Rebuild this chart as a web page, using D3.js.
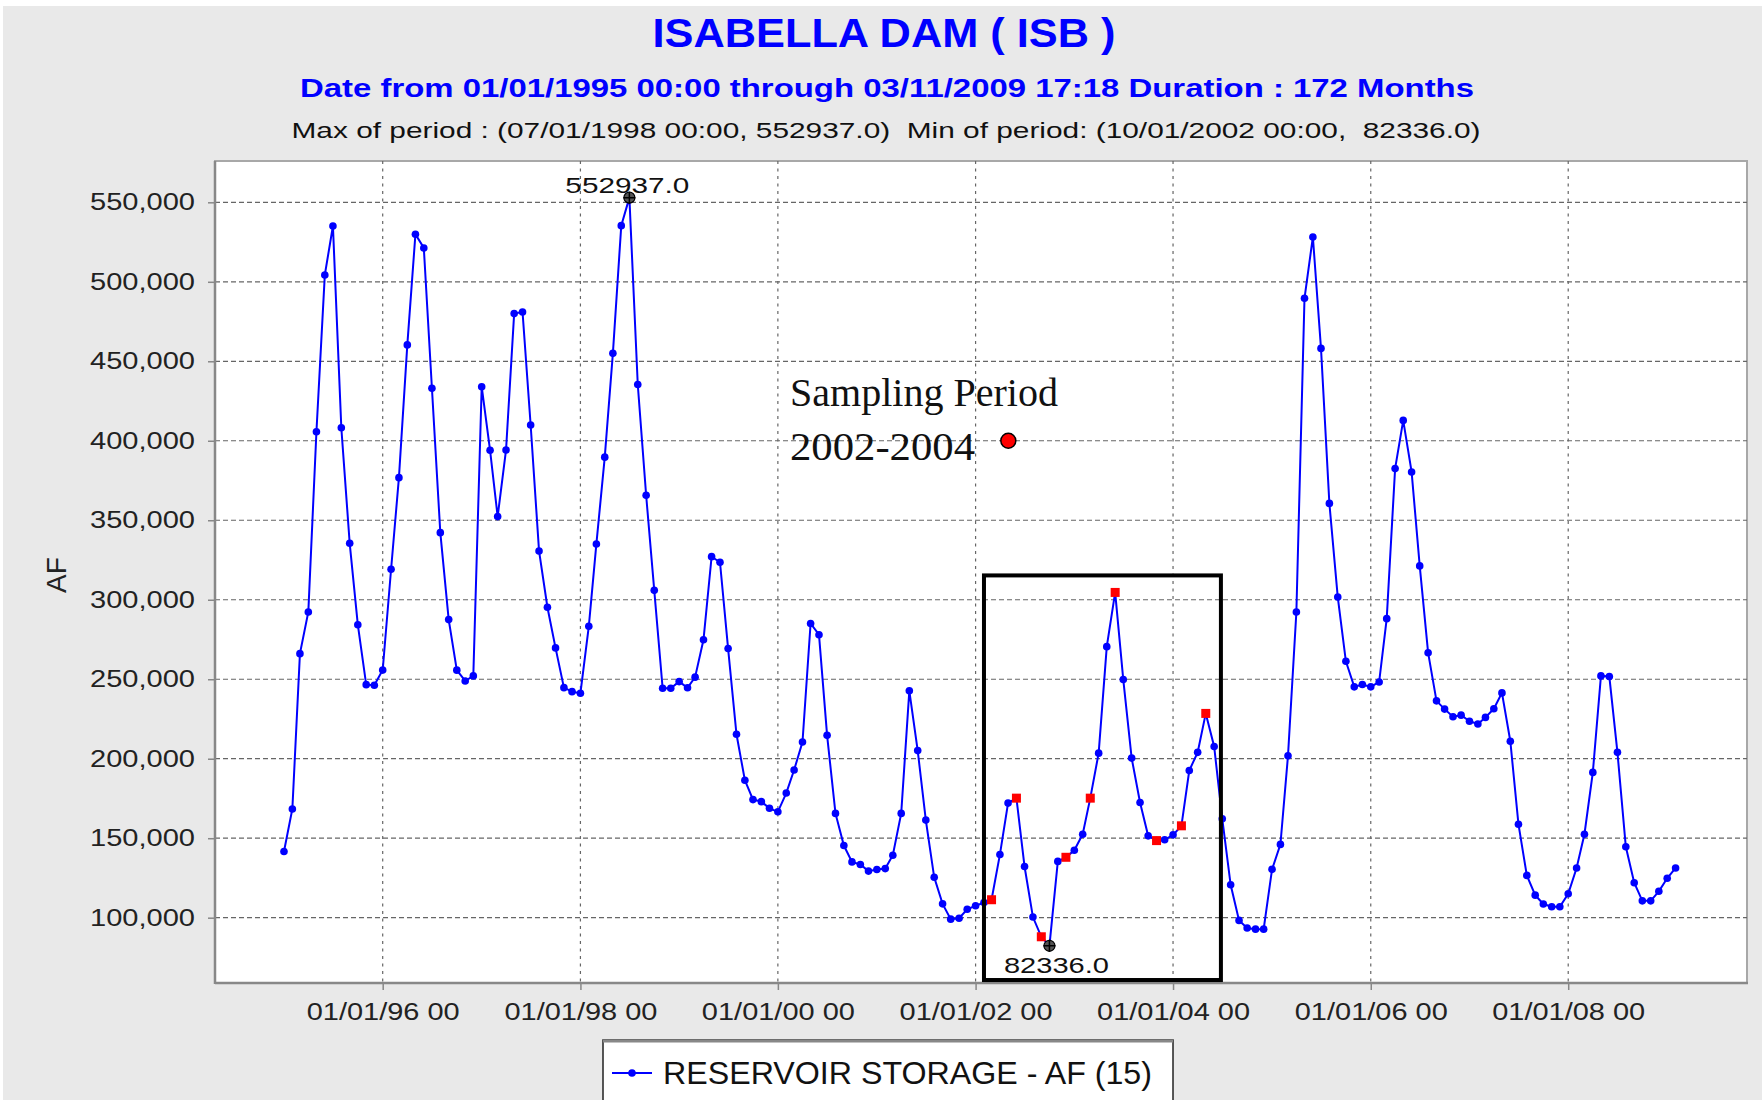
<!DOCTYPE html>
<html>
<head>
<meta charset="utf-8" />
<title>ISABELLA DAM ( ISB )</title>
<style>
  body { margin: 0; background: #fff; }
  .grid { stroke: #666; stroke-width: 1.2px; }
  .line { fill: none; stroke: #0000ff; stroke-width: 2px; }
</style>
</head>
<body>
<svg id="chart" width="1762" height="1100" font-family="'Liberation Sans', Arial, sans-serif"></svg>
<script src="https://d3js.org/d3.v7.min.js"></script>
<script>
// monthly storage (AF), first value is 01/01/1995, one value per month
var firstMonth = new Date(1995, 0, 1);
var storage = [
  141600, 168400, 266100, 292300, 405700, 504300, 535100, 408200, 335500, 284300, 246600, 246200,
  255800, 319200, 376800, 460300, 529900, 521300, 433000, 342200, 287500, 255700, 248900, 252100,
  434000, 394000, 352300, 394200, 480000, 481000, 409900, 330700, 295300, 269700, 244700, 242200,
  241200, 283300, 335100, 389700, 455000, 535300, 552937, 435400, 365700, 305900, 244300, 244300,
  248500, 244600, 251300, 274800, 327100, 323600, 269300, 215400, 186500, 174300, 173000, 168800,
  166600, 178400, 192900, 210500, 285100, 278000, 214700, 165600, 145400, 135100, 133500, 129300,
  130300, 130900, 139300, 165600, 242700, 205100, 161400, 125400, 108700, 99100, 99700, 105300,
  107500, 109500, 111300, 139800, 172100, 175200, 132200, 100400, 88000, 82336, 135400, 138000,
  142400, 152500, 175200, 203500, 270500, 304600, 249800, 200400, 172500, 151500, 148500, 149000,
  152100, 157800, 192600, 204000, 228500, 207700, 162200, 120700, 98300, 93500, 92800, 92800,
  130400, 146100, 201900, 292300, 489600, 528200, 458100, 360600, 301700, 261300, 245200, 246700,
  245200, 248300, 288100, 382500, 412800, 380400, 321300, 266700, 236400, 231200, 226400, 227400,
  223600, 221800, 226000, 231400, 241400, 211000, 158800, 126600, 114200, 108600, 106900, 106900,
  115100, 131300, 152500, 191400, 252100, 251700, 204000, 144600, 122000, 110600, 110600, 116600,
  124800, 131300
];
// months marked as sampled (red squares)
var samplingMonths = ["2002-03", "2002-06", "2002-09", "2002-12", "2003-03", "2003-06", "2003-11", "2004-02", "2004-05"];
var yTicks = [100000, 150000, 200000, 250000, 300000, 350000, 400000, 450000, 500000, 550000];
var xTicks = ["1996-01-01", "1998-01-01", "2000-01-01", "2002-01-01", "2004-01-01", "2006-01-01", "2008-01-01"];
// sampling period box and its note
var boxDates = ["2002-02-01", "2004-06-26"];
var boxValues = [60800, 315300];
var noteDate = "2002-05-02", noteValue = 400000;

var parseDay = d3.timeParse("%Y-%m-%d"),
    parseMonth = d3.timeParse("%Y-%m");

var data = storage.map(function(v, i) {
  return { date: d3.timeMonth.offset(firstMonth, i), value: v };
});
var sampled = samplingMonths.map(function(s) {
  var d = parseMonth(s);
  return data.find(function(p) { return +p.date === +d; });
});
var maxPt = data.reduce(function(a, b) { return b.value > a.value ? b : a; });
var minPt = data.reduce(function(a, b) { return b.value < a.value ? b : a; });

var svg = d3.select("#chart");
var plot = { left: 215, right: 1747, top: 161, bottom: 983 };

var jan96 = new Date(1996, 0, 1);
var x = d3.scaleTime()
  .domain([d3.timeDay.offset(jan96, -620), d3.timeDay.offset(jan96, 5044)])
  .range([plot.left, plot.right]);
var y = d3.scaleLinear().domain([58925, 575980]).range([plot.bottom, plot.top]);

// background
svg.append("rect").attr("x", 3).attr("y", 6).attr("width", 1759).attr("height", 1094).attr("fill", "#e9e9e9");
svg.append("rect")
  .attr("x", plot.left).attr("y", plot.top)
  .attr("width", plot.right - plot.left).attr("height", plot.bottom - plot.top)
  .attr("fill", "#fff").attr("stroke", "#a8a8a8").attr("stroke-width", 2);

// titles
function label(txt, cx, by, size, weight, color, len) {
  return svg.append("text")
    .attr("x", cx).attr("y", by)
    .attr("text-anchor", "middle")
    .attr("font-size", size).attr("font-weight", weight)
    .attr("fill", color)
    .attr("textLength", len).attr("lengthAdjust", "spacingAndGlyphs")
    .text(txt);
}
label("ISABELLA DAM ( ISB )", 884, 47, 41, "bold", "#0000ff", 463);
label("Date from 01/01/1995 00:00 through 03/11/2009 17:18 Duration : 172 Months", 887, 97, 26, "bold", "#0000ff", 1174);
label("Max of period : (07/01/1998 00:00, 552937.0)  Min of period: (10/01/2002 00:00,  82336.0)", 886, 138, 22, "normal", "#111", 1189)
  .attr("xml:space", "preserve");

// grid
var xTickDates = xTicks.map(parseDay);
svg.append("g").selectAll("line").data(yTicks).enter().append("line")
  .attr("class", "grid").attr("stroke-dasharray", "5,3")
  .attr("x1", plot.left).attr("x2", plot.right)
  .attr("y1", function(d) { return y(d); }).attr("y2", function(d) { return y(d); });
svg.append("g").selectAll("line").data(xTickDates).enter().append("line")
  .attr("class", "grid").attr("stroke-dasharray", "3,4.5")
  .attr("y1", plot.top).attr("y2", plot.bottom)
  .attr("x1", function(d) { return x(d); }).attr("x2", function(d) { return x(d); });

// axes
var yAxis = svg.append("g")
  .attr("transform", "translate(" + plot.left + ",0)")
  .call(d3.axisLeft(y).tickValues(yTicks).tickFormat(d3.format(",")).tickSize(7).tickPadding(13));
var xAxis = svg.append("g")
  .attr("transform", "translate(0," + plot.bottom + ")")
  .call(d3.axisBottom(x).tickValues(xTickDates).tickFormat(d3.timeFormat("%m/%d/%y %H")).tickSize(7).tickPadding(14));
[yAxis, xAxis].forEach(function(a) {
  a.attr("font-family", "'Liberation Sans', Arial, sans-serif").attr("font-size", 23);
  a.select(".domain").remove();
  a.selectAll(".tick line").attr("stroke", "#888").attr("stroke-width", 1.5);
  a.selectAll(".tick text").attr("fill", "#222").attr("lengthAdjust", "spacingAndGlyphs");
});
yAxis.selectAll(".tick text").attr("textLength", 105);
xAxis.selectAll(".tick text").attr("textLength", 153);

svg.append("line").attr("x1", plot.left).attr("x2", plot.left).attr("y1", plot.top).attr("y2", plot.bottom + 1)
  .attr("stroke", "#888").attr("stroke-width", 2.5);
svg.append("line").attr("x1", plot.left).attr("x2", plot.right + 1).attr("y1", plot.bottom).attr("y2", plot.bottom)
  .attr("stroke", "#888").attr("stroke-width", 2.5);

svg.append("text")
  .attr("transform", "translate(66,575) rotate(-90)")
  .attr("text-anchor", "middle").attr("font-size", 28).attr("fill", "#222")
  .text("AF");

// series
var line = d3.line()
  .x(function(d) { return x(d.date); })
  .y(function(d) { return y(d.value); });
svg.append("path").datum(data).attr("class", "line").attr("d", line);
svg.append("g").selectAll("circle").data(data).enter().append("circle")
  .attr("cx", function(d) { return x(d.date); })
  .attr("cy", function(d) { return y(d.value); })
  .attr("r", 3.8).attr("fill", "#0000ff");

// sampling period box
svg.append("rect")
  .attr("x", x(parseDay(boxDates[0]))).attr("y", y(boxValues[1]))
  .attr("width", x(parseDay(boxDates[1])) - x(parseDay(boxDates[0])))
  .attr("height", y(boxValues[0]) - y(boxValues[1]))
  .attr("fill", "none").attr("stroke", "#000").attr("stroke-width", 4);

svg.append("g").selectAll("rect").data(sampled).enter().append("rect")
  .attr("x", function(d) { return x(d.date) - 4.5; })
  .attr("y", function(d) { return y(d.value) - 4.5; })
  .attr("width", 9).attr("height", 9).attr("fill", "#ff0000");

// max / min markers
[maxPt, minPt].forEach(function(p) {
  var cx = x(p.date), cy = y(p.value);
  svg.append("circle").attr("cx", cx).attr("cy", cy).attr("r", 5.5)
    .attr("fill", "#555").attr("stroke", "#000").attr("stroke-width", 1.2);
  svg.append("path").attr("d", "M" + (cx - 6) + "," + cy + "H" + (cx + 6) + "M" + cx + "," + (cy - 6) + "V" + (cy + 6))
    .attr("stroke", "#000").attr("stroke-width", 1.5);
});
svg.append("text").attr("x", x(maxPt.date) - 2).attr("y", y(maxPt.value) - 5)
  .attr("text-anchor", "middle").attr("font-size", 22).attr("fill", "#111")
  .attr("textLength", 124).attr("lengthAdjust", "spacingAndGlyphs")
  .text(d3.format(".1f")(maxPt.value));
svg.append("text").attr("x", x(minPt.date) + 7).attr("y", y(minPt.value) + 27)
  .attr("text-anchor", "middle").attr("font-size", 22).attr("fill", "#111")
  .attr("textLength", 105).attr("lengthAdjust", "spacingAndGlyphs")
  .text(d3.format(".1f")(minPt.value));

// note
var note = svg.append("g").attr("font-family", "'Liberation Serif', 'Times New Roman', serif").attr("fill", "#111");
note.append("text").attr("x", 790).attr("y", 406).attr("font-size", 40)
  .attr("textLength", 268).attr("lengthAdjust", "spacingAndGlyphs").text("Sampling Period");
note.append("text").attr("x", 790).attr("y", 460).attr("font-size", 40)
  .attr("textLength", 185).attr("lengthAdjust", "spacingAndGlyphs").text("2002-2004");
svg.append("circle").attr("cx", x(parseDay(noteDate))).attr("cy", y(noteValue)).attr("r", 7.5)
  .attr("fill", "#ff0000").attr("stroke", "#000").attr("stroke-width", 1.5);

// legend
var lg = svg.append("g");
lg.append("rect").attr("x", 603).attr("y", 1040).attr("width", 570).attr("height", 80)
  .attr("fill", "#fff").attr("stroke", "#222").attr("stroke-width", 1.5);
lg.append("line").attr("x1", 603).attr("x2", 1173).attr("y1", 1041).attr("y2", 1041)
  .attr("stroke", "#888").attr("stroke-width", 3);
lg.append("line").attr("x1", 612).attr("x2", 652).attr("y1", 1073).attr("y2", 1073)
  .attr("stroke", "#0000ff").attr("stroke-width", 2);
lg.append("circle").attr("cx", 632).attr("cy", 1073).attr("r", 3.8).attr("fill", "#0000ff");
lg.append("text").attr("x", 663).attr("y", 1084).attr("font-size", 32).attr("fill", "#111")
  .attr("textLength", 489).attr("lengthAdjust", "spacingAndGlyphs")
  .text("RESERVOIR STORAGE - AF (15)");
</script>
</body>
</html>
